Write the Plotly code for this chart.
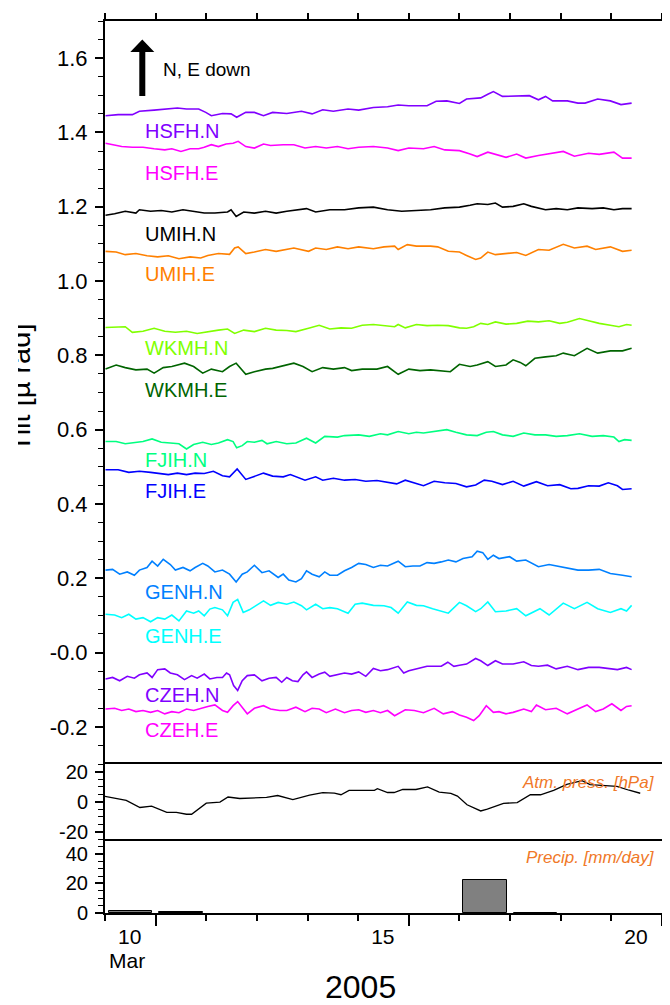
import pandas as pd
import plotly.graph_objects as go

# ---------------- data (day of March 2005, value) ----------------
hsfh_n_day = [9.01,9.26,9.54,9.68,9.97,10.22,10.43,10.61,10.85,10.99,11.10,11.32,11.49,11.60,11.78,11.95,12.13,12.31,12.59,12.88,13.09,13.30,13.51,13.80,14.01,14.30,14.58,14.79,15.00,15.36,15.54,15.75,16.00,16.14,16.42,16.56,16.67,16.85,17.13,17.38,17.56,17.70,17.84,18.13,18.34,18.48,18.73,18.98,19.19,19.40]
hsfh_n_val = [1.445,1.448,1.448,1.457,1.460,1.463,1.466,1.463,1.463,1.454,1.445,1.451,1.450,1.441,1.454,1.454,1.445,1.454,1.451,1.457,1.450,1.461,1.457,1.463,1.460,1.467,1.469,1.474,1.472,1.472,1.484,1.485,1.478,1.490,1.493,1.503,1.510,1.497,1.497,1.499,1.488,1.497,1.485,1.485,1.479,1.479,1.490,1.485,1.475,1.479]

hsfh_e_day = [9.01,9.19,9.33,9.54,9.75,9.97,10.18,10.32,10.50,10.68,10.85,10.96,11.10,11.24,11.39,11.53,11.63,11.78,11.95,12.13,12.27,12.52,12.73,12.95,13.16,13.37,13.59,13.80,14.01,14.30,14.58,14.79,15.00,15.29,15.50,15.71,16.00,16.21,16.35,16.56,16.78,16.92,17.13,17.31,17.56,17.77,18.05,18.27,18.55,18.76,19.05,19.22,19.40]
hsfh_e_val = [1.371,1.367,1.362,1.360,1.360,1.356,1.353,1.356,1.349,1.356,1.356,1.360,1.367,1.362,1.369,1.371,1.376,1.362,1.358,1.369,1.365,1.367,1.367,1.358,1.362,1.358,1.362,1.356,1.360,1.362,1.358,1.351,1.358,1.356,1.362,1.353,1.351,1.342,1.335,1.347,1.338,1.333,1.342,1.331,1.338,1.342,1.349,1.336,1.344,1.341,1.347,1.331,1.331]

umih_n_day = [9.01,9.19,9.40,9.61,9.68,9.90,10.11,10.32,10.54,10.75,10.96,11.17,11.42,11.49,11.59,11.74,11.95,12.17,12.38,12.59,12.98,13.16,13.44,13.73,14.01,14.30,14.58,14.86,15.15,15.43,15.71,16.00,16.21,16.35,16.56,16.71,16.85,17.06,17.27,17.42,17.70,17.91,18.13,18.34,18.62,18.84,19.05,19.22,19.40]
umih_n_val = [1.177,1.181,1.188,1.183,1.192,1.188,1.190,1.186,1.192,1.188,1.183,1.183,1.186,1.192,1.174,1.186,1.183,1.188,1.183,1.188,1.195,1.186,1.192,1.192,1.197,1.199,1.192,1.188,1.190,1.192,1.197,1.199,1.204,1.208,1.206,1.210,1.199,1.201,1.208,1.201,1.192,1.195,1.192,1.197,1.195,1.197,1.192,1.195,1.195]

umih_e_day = [9.01,9.22,9.40,9.61,9.83,10.04,10.25,10.46,10.68,10.89,11.03,11.24,11.46,11.56,11.63,11.78,11.95,12.17,12.38,12.59,12.73,13.02,13.16,13.37,13.59,13.80,14.01,14.30,14.51,14.72,14.79,14.97,15.15,15.43,15.57,15.78,16.00,16.14,16.32,16.42,16.56,16.71,16.92,17.13,17.31,17.56,17.77,18.05,18.27,18.52,18.69,18.98,19.22,19.40]
umih_e_val = [1.080,1.078,1.071,1.074,1.068,1.065,1.068,1.060,1.065,1.062,1.069,1.074,1.072,1.089,1.092,1.074,1.078,1.085,1.080,1.085,1.089,1.080,1.089,1.085,1.092,1.087,1.092,1.087,1.092,1.094,1.085,1.098,1.094,1.094,1.092,1.080,1.078,1.069,1.058,1.062,1.078,1.071,1.074,1.077,1.069,1.085,1.083,1.099,1.089,1.094,1.085,1.092,1.080,1.083]

wkmh_n_day = [9.01,9.26,9.40,9.54,9.75,9.97,10.18,10.39,10.61,10.82,11.03,11.24,11.42,11.56,11.74,11.95,12.17,12.38,12.59,12.77,13.02,13.23,13.44,13.66,13.87,14.08,14.30,14.51,14.72,14.79,14.93,15.15,15.36,15.57,15.78,16.00,16.14,16.28,16.42,16.56,16.71,16.92,17.13,17.35,17.56,17.77,17.98,18.13,18.37,18.55,18.76,18.98,19.15,19.30,19.40]
wkmh_n_val = [0.875,0.875,0.877,0.862,0.865,0.873,0.865,0.862,0.865,0.859,0.864,0.868,0.871,0.859,0.868,0.864,0.873,0.868,0.867,0.864,0.873,0.881,0.871,0.874,0.873,0.881,0.883,0.880,0.877,0.883,0.874,0.883,0.880,0.881,0.880,0.874,0.873,0.877,0.886,0.883,0.890,0.884,0.886,0.892,0.890,0.893,0.886,0.889,0.899,0.893,0.886,0.881,0.877,0.883,0.881]

wkmh_e_day = [9.01,9.22,9.40,9.61,9.83,9.97,10.15,10.32,10.57,10.75,10.93,11.10,11.32,11.46,11.59,11.67,11.78,11.95,12.17,12.31,12.52,12.73,12.91,13.09,13.30,13.51,13.73,13.87,14.08,14.37,14.58,14.79,15.00,15.22,15.43,15.64,15.82,16.00,16.21,16.35,16.56,16.71,16.92,17.06,17.20,17.31,17.49,17.70,17.91,18.05,18.27,18.52,18.73,18.98,19.22,19.40]
wkmh_e_val = [0.763,0.774,0.767,0.761,0.763,0.752,0.767,0.770,0.779,0.770,0.752,0.763,0.756,0.770,0.779,0.767,0.749,0.756,0.763,0.765,0.772,0.779,0.770,0.756,0.767,0.763,0.767,0.759,0.763,0.763,0.770,0.749,0.763,0.759,0.761,0.759,0.756,0.776,0.770,0.774,0.783,0.770,0.774,0.788,0.781,0.772,0.792,0.796,0.799,0.806,0.799,0.819,0.806,0.812,0.812,0.819]

fjih_n_day = [9.01,9.22,9.40,9.61,9.75,9.93,10.11,10.29,10.46,10.61,10.75,10.93,11.10,11.24,11.42,11.53,11.60,11.71,11.81,11.95,12.10,12.20,12.38,12.59,12.77,12.98,13.16,13.34,13.59,13.73,14.01,14.22,14.44,14.58,14.79,15.00,15.15,15.29,15.54,15.75,15.93,16.14,16.35,16.53,16.67,16.85,17.06,17.27,17.49,17.70,17.91,18.13,18.37,18.62,18.84,19.05,19.15,19.26,19.40]
fjih_n_val = [0.568,0.568,0.562,0.566,0.568,0.575,0.566,0.564,0.562,0.548,0.560,0.566,0.560,0.564,0.573,0.568,0.551,0.557,0.568,0.566,0.571,0.562,0.568,0.562,0.564,0.577,0.564,0.582,0.580,0.584,0.586,0.582,0.589,0.586,0.595,0.589,0.593,0.591,0.595,0.600,0.593,0.586,0.584,0.593,0.595,0.586,0.582,0.591,0.586,0.586,0.582,0.584,0.589,0.582,0.584,0.580,0.568,0.573,0.571]

fjih_e_day = [9.01,9.26,9.47,9.68,9.90,10.07,10.25,10.43,10.61,10.78,10.96,11.14,11.32,11.46,11.61,11.78,11.95,12.13,12.31,12.52,12.66,12.95,13.16,13.30,13.51,13.73,13.94,14.15,14.37,14.58,14.76,14.93,15.15,15.29,15.50,15.71,15.93,16.14,16.32,16.49,16.64,16.85,17.06,17.27,17.52,17.74,17.98,18.20,18.34,18.55,18.76,18.94,19.12,19.22,19.40]
fjih_e_val = [0.492,0.492,0.485,0.488,0.485,0.483,0.479,0.483,0.479,0.483,0.482,0.488,0.476,0.473,0.494,0.466,0.475,0.483,0.475,0.473,0.479,0.464,0.473,0.464,0.469,0.464,0.466,0.461,0.463,0.458,0.454,0.464,0.455,0.449,0.461,0.457,0.455,0.446,0.451,0.464,0.461,0.452,0.461,0.448,0.460,0.449,0.452,0.441,0.442,0.449,0.448,0.457,0.449,0.439,0.441]

genh_n_day = [9.01,9.15,9.29,9.44,9.58,9.68,9.83,9.93,10.04,10.15,10.29,10.39,10.54,10.68,10.78,10.93,11.03,11.17,11.32,11.46,11.59,11.71,11.81,11.95,12.10,12.24,12.42,12.52,12.63,12.77,12.88,12.98,13.09,13.23,13.34,13.44,13.59,13.73,13.87,14.01,14.15,14.30,14.44,14.58,14.79,14.93,15.08,15.22,15.36,15.50,15.64,15.78,15.93,16.07,16.25,16.35,16.46,16.56,16.67,16.78,16.99,17.13,17.31,17.56,17.77,17.98,18.13,18.34,18.55,18.76,18.98,19.12,19.22,19.40]
genh_n_val = [0.222,0.224,0.211,0.217,0.208,0.222,0.229,0.246,0.233,0.251,0.237,0.222,0.229,0.220,0.229,0.240,0.233,0.217,0.222,0.211,0.190,0.211,0.217,0.235,0.215,0.220,0.202,0.211,0.195,0.190,0.199,0.220,0.211,0.204,0.217,0.208,0.208,0.220,0.229,0.240,0.237,0.229,0.235,0.233,0.246,0.231,0.233,0.233,0.242,0.240,0.244,0.249,0.244,0.253,0.258,0.273,0.269,0.251,0.262,0.253,0.258,0.246,0.249,0.231,0.237,0.231,0.226,0.222,0.222,0.224,0.213,0.211,0.208,0.204]

genh_e_day = [9.01,9.19,9.33,9.47,9.61,9.75,9.90,10.04,10.18,10.32,10.46,10.61,10.75,10.85,10.96,11.07,11.17,11.32,11.42,11.53,11.62,11.73,11.85,11.99,12.13,12.27,12.42,12.59,12.73,12.88,12.98,13.16,13.30,13.44,13.59,13.80,13.94,14.08,14.30,14.51,14.65,14.79,14.97,15.15,15.29,15.47,15.64,15.78,16.00,16.14,16.32,16.42,16.56,16.71,16.92,17.13,17.31,17.49,17.59,17.77,18.05,18.27,18.52,18.73,18.98,19.19,19.30,19.40]
genh_e_val = [0.103,0.101,0.094,0.103,0.090,0.094,0.083,0.094,0.090,0.101,0.085,0.112,0.106,0.112,0.099,0.117,0.121,0.115,0.099,0.135,0.143,0.108,0.115,0.127,0.139,0.127,0.135,0.130,0.136,0.126,0.115,0.130,0.118,0.121,0.118,0.106,0.130,0.133,0.127,0.126,0.121,0.106,0.136,0.127,0.126,0.118,0.112,0.106,0.135,0.126,0.110,0.118,0.136,0.110,0.112,0.118,0.099,0.112,0.118,0.101,0.133,0.118,0.135,0.118,0.108,0.118,0.112,0.127]

czeh_n_day = [9.01,9.15,9.29,9.44,9.58,9.68,9.83,9.93,10.04,10.18,10.29,10.43,10.57,10.71,10.82,10.96,11.07,11.21,11.32,11.40,11.46,11.54,11.62,11.71,11.81,11.95,12.10,12.24,12.38,12.49,12.59,12.70,12.81,12.91,12.98,13.09,13.23,13.34,13.44,13.59,13.73,13.87,14.01,14.15,14.30,14.44,14.58,14.79,14.90,15.00,15.18,15.36,15.54,15.64,15.77,15.89,16.00,16.14,16.32,16.42,16.56,16.71,16.85,17.06,17.27,17.42,17.56,17.74,17.91,18.13,18.34,18.55,18.76,18.98,19.12,19.30,19.40]
czeh_n_val = [-0.071,-0.067,-0.076,-0.064,-0.069,-0.060,-0.055,-0.067,-0.046,-0.044,-0.055,-0.060,-0.073,-0.062,-0.069,-0.058,-0.071,-0.067,-0.067,-0.055,-0.060,-0.089,-0.102,-0.076,-0.062,-0.060,-0.076,-0.069,-0.067,-0.080,-0.067,-0.076,-0.078,-0.060,-0.052,-0.067,-0.058,-0.053,-0.064,-0.060,-0.055,-0.058,-0.052,-0.064,-0.043,-0.049,-0.046,-0.037,-0.055,-0.049,-0.044,-0.037,-0.037,-0.037,-0.026,-0.037,-0.034,-0.031,-0.016,-0.022,-0.035,-0.022,-0.031,-0.031,-0.025,-0.035,-0.037,-0.034,-0.044,-0.037,-0.046,-0.040,-0.040,-0.044,-0.046,-0.040,-0.046]

czeh_e_day = [9.01,9.19,9.33,9.47,9.61,9.75,9.90,10.04,10.18,10.32,10.46,10.61,10.75,10.89,11.03,11.17,11.32,11.42,11.53,11.62,11.73,11.81,11.95,12.13,12.27,12.45,12.59,12.77,12.95,13.09,13.23,13.37,13.55,13.73,13.87,14.01,14.15,14.30,14.44,14.58,14.72,14.93,15.11,15.29,15.50,15.68,15.86,16.00,16.14,16.28,16.39,16.53,16.67,16.78,16.92,17.06,17.27,17.42,17.52,17.70,17.91,18.13,18.34,18.52,18.69,18.84,19.01,19.19,19.30,19.40]
czeh_e_val = [-0.152,-0.150,-0.156,-0.152,-0.159,-0.156,-0.161,-0.156,-0.165,-0.159,-0.162,-0.152,-0.156,-0.150,-0.145,-0.141,-0.156,-0.161,-0.143,-0.132,-0.152,-0.165,-0.150,-0.143,-0.152,-0.156,-0.156,-0.147,-0.159,-0.150,-0.152,-0.162,-0.152,-0.162,-0.156,-0.154,-0.161,-0.156,-0.162,-0.156,-0.170,-0.154,-0.156,-0.162,-0.150,-0.165,-0.159,-0.168,-0.174,-0.183,-0.170,-0.143,-0.161,-0.159,-0.165,-0.161,-0.152,-0.159,-0.141,-0.154,-0.150,-0.165,-0.152,-0.141,-0.159,-0.152,-0.138,-0.156,-0.145,-0.143]

press_day = [9.00,9.23,9.42,9.69,9.92,10.22,10.41,10.61,10.71,11.00,11.27,11.43,11.66,12.19,12.41,12.71,13.04,13.30,13.53,13.66,13.82,14.32,14.38,14.58,14.71,14.88,15.14,15.37,15.60,15.83,15.96,16.15,16.42,16.55,16.74,16.87,17.14,17.40,17.60,17.86,18.12,18.42,18.58,18.84,19.11,19.35,19.57]
press_val = [3.4,1.8,0.7,-4.0,-3.1,-7.2,-7.2,-8.5,-8.5,-1.1,-0.4,3.0,2.0,2.7,4.0,1.3,4.3,5.9,5.6,4.5,7.4,7.4,8.5,6.0,6.0,8.0,8.0,9.7,6.3,5.4,3.6,-2.2,-6.3,-5.1,-2.7,-1.3,-0.7,4.5,4.5,7.4,11.4,13.9,11.2,10.8,10.1,7.5,5.5]

precip_day = [9.5, 10.5, 16.5, 17.5]
precip_val = [1.2, 1.0, 22.0, 0.3]

series = [
    ("HSFH.N", hsfh_n_day, hsfh_n_val, "#8000ff", 1.405),
    ("HSFH.E", hsfh_e_day, hsfh_e_val, "#ff00ff", 1.292),
    ("UMIH.N", umih_n_day, umih_n_val, "#000000", 1.128),
    ("UMIH.E", umih_e_day, umih_e_val, "#ff8000", 1.018),
    ("WKMH.N", wkmh_n_day, wkmh_n_val, "#80ff00", 0.820),
    ("WKMH.E", wkmh_e_day, wkmh_e_val, "#006400", 0.707),
    ("FJIH.N", fjih_n_day, fjih_n_val, "#00ff80", 0.518),
    ("FJIH.E", fjih_e_day, fjih_e_val, "#0000ff", 0.436),
    ("GENH.N", genh_n_day, genh_n_val, "#0080ff", 0.164),
    ("GENH.E", genh_e_day, genh_e_val, "#00ffff", 0.044),
    ("CZEH.N", czeh_n_day, czeh_n_val, "#8000ff", -0.113),
    ("CZEH.E", czeh_e_day, czeh_e_val, "#ff00ff", -0.209),
]

tilt_ticks = [-0.2, 0.0, 0.2, 0.4, 0.6, 0.8, 1.0, 1.2, 1.4, 1.6]
tilt_ticktext = ["-0.2", "-0.0", "0.2", "0.4", "0.6", "0.8", "1.0", "1.2", "1.4", "1.6"]
press_ticks = [-20, 0, 20]
press_ticktext = ["-20", "0", "20"]
precip_ticks = [0, 20, 40]
precip_ticktext = ["0", "20", "40"]
x_tick_days = [10, 15, 20]
x_ticktext = ["10", "15", "20"]

BASE = pd.Timestamp("2005-03-01")


def to_time(days):
    return [BASE + pd.Timedelta(days=d - 1) for d in days]


# ---------------- layout geometry (page pixels; page body has 8px margin) ----------------
OFF = 8
W, H = 670 - OFF, 1005 - OFF
ML, MR, MT, MB = 105 - OFF, 8, 21 - OFF, 92
PW, PH = W - ML - MR, H - MT - MB
FONT = "Liberation Sans, Arial, sans-serif"


def px_x(px):
    return (px - OFF - ML) / PW


def px_y(py):
    return (H - MB - (py - OFF)) / PH


d_bot = [0, px_y(839)]
d_mid = [px_y(839), px_y(764)]
d_top = [px_y(764), 1]

fig = go.Figure()

for name, d, v, c, _ in series:
    fig.add_trace(go.Scatter(x=to_time(d), y=v, mode="lines", name=name,
                             line=dict(color=c, width=1.6), xaxis="x", yaxis="y",
                             showlegend=False))

fig.add_trace(go.Scatter(x=to_time(press_day), y=press_val, mode="lines",
                         line=dict(color="black", width=1.3), xaxis="x2", yaxis="y2",
                         showlegend=False))

fig.add_trace(go.Bar(x=to_time(precip_day), y=precip_val, width=0.86 * 86400000,
                     marker=dict(color="#808080", line=dict(color="black", width=1)),
                     xaxis="x3", yaxis="y3", showlegend=False))

xr = [BASE + pd.Timedelta(days=8), BASE + pd.Timedelta(days=19)]
tickdates = to_time(x_tick_days)
common_x = dict(range=xr, type="date", showgrid=False, zeroline=False, showline=True,
                linecolor="black", linewidth=2, automargin=False)
minor_x = dict(dtick=86400000, tick0="2005-03-01", ticklen=6, tickwidth=1.5,
               tickcolor="black", ticks="outside", showgrid=False)

minor_common = dict(ticklen=5, tickwidth=1.2, tickcolor="black", ticks="outside",
                    showgrid=False)
ycommon = dict(showgrid=False, zeroline=False, showline=True, linecolor="black",
               linewidth=2, mirror="allticks", ticks="outside", ticklen=8,
               tickwidth=1.5, tickcolor="black", automargin=False,
               ticklabelstandoff=3)

fig.update_layout(
    width=W, height=H, margin=dict(l=ML, r=MR, t=MT, b=MB),
    paper_bgcolor="white", plot_bgcolor="white",
    font=dict(family=FONT, color="black"),
    bargap=0,
    xaxis=dict(**common_x, anchor="y", side="top", mirror=False, ticks="outside",
               tickvals=tickdates, ticktext=["", "", ""], ticklen=11, tickwidth=2,
               tickcolor="black", showticklabels=False, minor=minor_x),
    xaxis2=dict(**common_x, anchor="y2", mirror=True, ticks="", showticklabels=False,
                matches="x"),
    xaxis3=dict(**common_x, anchor="y3", side="bottom", mirror=False, ticks="outside",
                tickvals=tickdates, ticktext=x_ticktext, ticklen=11, tickwidth=2,
                tickcolor="black", tickfont=dict(size=21, family=FONT),
                ticklabelshift=-26, ticklabelstandoff=-7, minor=minor_x,
                matches="x"),
    yaxis=dict(**ycommon, domain=d_top, range=[-0.3, 1.7], tickvals=tilt_ticks,
               ticktext=tilt_ticktext, tickfont=dict(size=22, family=FONT),
               minor=dict(**minor_common, dtick=0.05, tick0=0)),
    yaxis2=dict(**ycommon, domain=d_mid, range=[-25, 25], tickvals=press_ticks,
                ticktext=press_ticktext, tickfont=dict(size=20, family=FONT),
                minor=dict(**minor_common, dtick=5, tick0=0)),
    yaxis3=dict(**ycommon, domain=d_bot, range=[0, 50], tickvals=precip_ticks,
                ticktext=precip_ticktext, tickfont=dict(size=20, family=FONT),
                minor=dict(**minor_common, dtick=5, tick0=0)),
)

ann = []
label_x = BASE + pd.Timedelta(days=8.744)
for name, d, v, c, ly in series:
    ann.append(dict(x=label_x, y=ly, xref="x", yref="y", text=name, showarrow=False,
                    xanchor="left", yanchor="middle",
                    font=dict(size=20, color=c, family=FONT)))

ann.append(dict(x=px_x(161), y=px_y(69), xref="paper", yref="paper", text="N, E down",
                showarrow=False, xanchor="left", yanchor="middle",
                font=dict(size=19, color="black", family=FONT)))
ann.append(dict(x=px_x(657), y=px_y(782), xref="paper", yref="paper",
                text="<i>Atm. press. [hPa]</i>", showarrow=False, xanchor="right",
                yanchor="middle", font=dict(size=17, color="#f07828", family=FONT)))
ann.append(dict(x=px_x(657), y=px_y(857), xref="paper", yref="paper",
                text="<i>Precip. [mm/day]</i>", showarrow=False, xanchor="right",
                yanchor="middle", font=dict(size=17, color="#f07828", family=FONT)))
ann.append(dict(x=px_x(127), y=px_y(961), xref="paper", yref="paper", text="Mar",
                showarrow=False, xanchor="center", yanchor="middle",
                font=dict(size=21, color="black", family=FONT)))
ann.append(dict(x=px_x(360), y=px_y(987), xref="paper", yref="paper", text="2005",
                showarrow=False, xanchor="center", yanchor="middle",
                font=dict(size=32, color="black", family=FONT)))
ann.append(dict(x=px_x(38), y=px_y(388), xref="paper", yref="paper",
                text="Tilt [\u00b5 rad]", textangle=-90, showarrow=False,
                xanchor="right", yanchor="middle",
                font=dict(size=29, color="black", family=FONT)))
# white strip: the reference shows the axis title clipped at its top
ann.append(dict(x=px_x(OFF), y=px_y(388), xref="paper", yref="paper", text=" ",
                showarrow=False, xanchor="left", yanchor="middle", width=10,
                height=170, bgcolor="white", borderpad=0, borderwidth=0))
fig.update_layout(annotations=ann)

# north arrow
ax0, tipy, basey, hw, sw, taily = 142.3, 39.5, 52, 12, 3, 96
path = (f"M {px_x(ax0 - sw)} {px_y(taily)} L {px_x(ax0 - sw)} {px_y(basey)} "
        f"L {px_x(ax0 - hw)} {px_y(basey)} L {px_x(ax0)} {px_y(tipy)} "
        f"L {px_x(ax0 + hw)} {px_y(basey)} L {px_x(ax0 + sw)} {px_y(basey)} "
        f"L {px_x(ax0 + sw)} {px_y(taily)} Z")
fig.add_shape(type="path", path=path, xref="paper", yref="paper",
              fillcolor="black", line=dict(color="black", width=0))

fig.write_html("out.html")
